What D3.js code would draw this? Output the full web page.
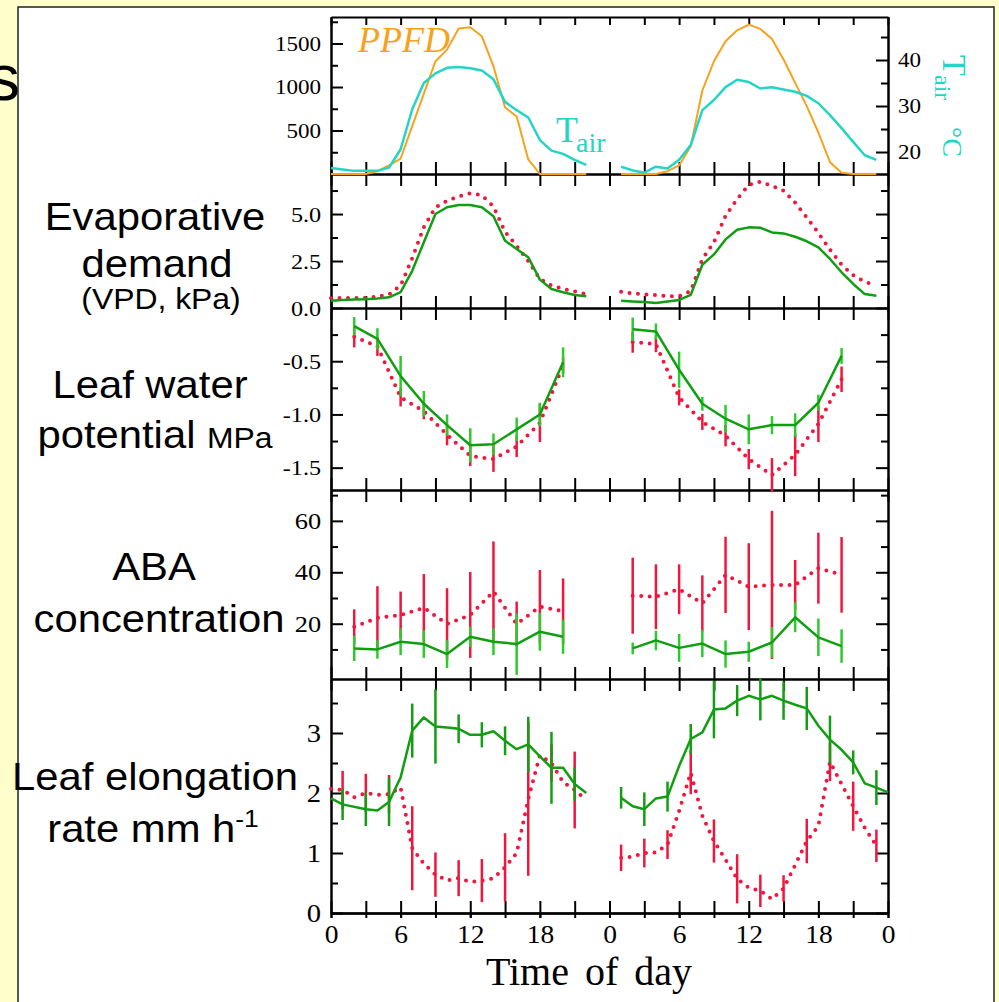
<!DOCTYPE html>
<html>
<head>
<meta charset="utf-8">
<script src="https://cdn.jsdelivr.net/npm/d3@7"></script>
<style>
  html, body { margin: 0; padding: 0; background: #FFFFCC; }
  svg { display: block; }
</style>
</head>
<body>
<svg id="chart" width="999" height="1002"></svg>
<script>
// ---- data (hour of a 48 h run, two days) ----
const hourly1 = [0, 1, 2, 3, 4, 5, 6, 7, 8, 9, 10, 11, 12, 13, 14, 15, 16, 17, 18, 19, 20, 21, 22];
const hourly2 = [25, 26, 27, 28, 29, 30, 31, 32, 33, 34, 35, 36, 37, 38, 39, 40, 41, 42, 43, 44, 45, 46, 47];
const sample1 = [2, 4, 6, 8, 10, 12, 14, 16, 18, 20];
const sample2 = [26, 28, 30, 32, 34, 36, 38, 40, 42, 44];
const odd1 = [1, 3, 5, 7, 9, 11, 13, 15, 17, 19, 21];
const odd2 = [25, 27, 29, 31, 33, 35, 37, 39, 41, 43, 45, 47];

// PPFD (umol m-2 s-1) and air temperature (deg C)
const ppfd1 = [0, 0, 0, 0, 32, 100, 178, 550, 925, 1296, 1430, 1672, 1687, 1583, 1239, 764, 661, 167, 0, 0, 0, 0, 0];
const ppfd2 = [0, 0, 0, 0, 32, 98, 319, 960, 1296, 1526, 1652, 1718, 1668, 1553, 1316, 1048, 780, 477, 136, 15, 0, 0, 0];
const tair1 = [16.5, 16.2, 15.9, 15.9, 15.9, 16.6, 20.6, 29.3, 35.0, 37.1, 38.3, 38.5, 38.2, 37.7, 35.8, 30.9, 29.1, 27.5, 22.6, 20.3, 19.6, 18.3, 17.2];
const tair2 = [16.8, 16.0, 15.5, 16.8, 16.4, 18.3, 21.5, 29.1, 31.3, 34.1, 35.7, 35.2, 33.8, 34.1, 33.6, 33.1, 32.2, 30.6, 28.0, 25.2, 22.2, 19.3, 18.3];

// VPD (kPa): green = solid, red = dotted
const vpdGreen1 = [0.39, 0.42, 0.45, 0.47, 0.5, 0.57, 0.84, 1.98, 3.5, 5.0, 5.36, 5.48, 5.48, 5.36, 4.88, 3.58, 3.14, 2.70, 1.51, 1.01, 0.84, 0.69, 0.62];
const vpdRed1 = [0.53, 0.53, 0.53, 0.55, 0.6, 0.72, 1.2, 2.65, 4.3, 5.35, 5.7, 5.93, 6.1, 6.0, 5.4, 4.05, 3.3, 2.5, 1.55, 1.2, 1.02, 0.88, 0.74];
const vpdGreen2 = [0.39, 0.35, 0.32, 0.27, 0.35, 0.43, 0.7, 2.3, 2.85, 3.65, 4.16, 4.29, 4.27, 4.02, 3.97, 3.79, 3.55, 3.23, 2.61, 1.9, 1.28, 0.74, 0.65];
const vpdRed2 = [0.87, 0.78, 0.72, 0.69, 0.63, 0.62, 0.9, 2.6, 3.5, 4.9, 5.8, 6.55, 6.72, 6.5, 6.24, 5.6, 4.82, 4.0, 3.1, 2.3, 1.75, 1.4, 1.19];

// Leaf water potential (MPa) with error bars
const lwpGreen1 = [-0.17, -0.29, -0.64, -0.90, -1.10, -1.29, -1.28, -1.14, -1.0, -0.51];
const lwpGreenErr1 = [0.085, 0.1, 0.19, 0.12, 0.1, 0.16, 0.1, 0.11, 0.11, 0.14];
const lwpRed1 = [-0.27, -0.36, -0.84, -0.97, -1.19, -1.39, -1.42, -1.30, -1.08, -0.54];
const lwpRedErr1 = [0.1, 0.09, 0.085, 0.075, 0.1, 0.095, 0.12, 0.1, 0.18, 0.075];
const lwpGreen2 = [-0.2, -0.22, -0.58, -0.90, -1.04, -1.14, -1.10, -1.10, -0.89, -0.45];
const lwpGreenErr2 = [0.11, 0.075, 0.17, 0.065, 0.13, 0.14, 0.085, 0.11, 0.075, 0.075];
const lwpRed2 = [-0.32, -0.34, -0.84, -1.07, -1.20, -1.42, -1.57, -1.38, -1.09, -0.67];
const lwpRedErr2 = [0.1, 0.075, 0.075, 0.075, 0.1, 0.095, 0.16, 0.2, 0.17, 0.12];

// ABA concentration with error bars
const abaGreen1 = [10.4, 10.0, 13.0, 12.1, 8.2, 14.9, 13.0, 12.1, 16.9, 14.9];
const abaGreenErr1 = [4.9, 3.6, 5.2, 5.4, 5.4, 3.9, 5.2, 12, 7.4, 6.6];
const abaRed1 = [18.8, 22.3, 23.4, 26.2, 19.9, 23.4, 32.5, 19.9, 26.6, 24.9];
const abaRedErr1 = [6.8, 12.3, 9.1, 13.1, 13.9, 16.7, 19.5, 8.7, 14.3, 12.7];
const abaGreen2 = [10.4, 13.5, 10.6, 12.3, 8.2, 9.1, 12.7, 22.5, 14.7, 11.3];
const abaGreenErr2 = [2.3, 3.8, 5.4, 5.3, 5.3, 3.9, 6.0, 5.8, 7.3, 6.5];
const abaRed2 = [30.9, 30.5, 33.4, 27.9, 39.0, 34.4, 35.1, 35.1, 41.6, 39.0];
const abaRedErr2 = [14.8, 12.6, 9.7, 10.9, 14.8, 16.9, 28.8, 9.7, 13.8, 14.7];

// Leaf elongation rate (mm h-1), hourly lines, error bars every 2 h
const lerGreenHours1 = [0, 1, 3, 4, 5, 6, 7, 8, 9, 10, 11, 12, 13, 14, 15, 16, 17, 18, 19, 20, 21, 22];
const lerGreen1 = [1.91, 1.81, 1.73, 1.71, 1.85, 2.26, 3.04, 3.26, 3.11, 3.09, 3.07, 2.97, 2.97, 3.03, 2.87, 2.73, 2.81, 2.61, 2.42, 2.42, 2.15, 2.0];
const lerGreenErr1 = [0.26, 0.28, 0.4, 0.45, 0.62, 0.24, 0.21, 0.24, 0.46, 0.6, 0.28];
const lerRed1 = [2.07, 2.05, 1.93, 2.0, 1.97, 1.98, 2.09, 1.08, 0.82, 0.64, 0.54, 0.58, 0.52, 0.54, 0.58, 0.76, 1.0, 1.9, 2.63, 2.5, 2.18, 2.05, 1.88];
const lerRedErr1 = [0.32, 0.32, 0.32, 0.7, 0.37, 0.3, 0.36, 0.57, 1.28, 0.31, 0.64];
const lerGreenHours2 = [25, 26, 27, 28, 29, 30, 31, 32, 33, 34, 35, 36, 37, 38, 39, 40, 41, 42, 43, 44, 45, 46, 47, 48];
const lerGreen2 = [1.92, 1.78, 1.73, 1.91, 1.94, 2.45, 2.90, 3.01, 3.39, 3.41, 3.54, 3.62, 3.56, 3.62, 3.54, 3.47, 3.41, 3.12, 2.89, 2.72, 2.51, 2.16, 2.09, 2.01];
const lerGreenErr2 = [0.18, 0.28, 0.25, 0.25, 0.48, 0.26, 0.35, 0.32, 0.36, 0.4, 0.2, 0.29];
const lerRed2 = [0.92, 0.94, 1.0, 1.01, 1.14, 1.70, 2.34, 1.62, 1.2, 0.89, 0.57, 0.42, 0.37, 0.23, 0.41, 0.8, 1.2, 1.45, 2.52, 2.15, 1.78, 1.42, 1.12];
const lerRedErr2 = [0.22, 0.24, 0.24, 0.36, 0.36, 0.41, 0.27, 0.22, 0.37, 0.32, 0.41, 0.27];

// ticks
const timeTicks = [0, 3, 6, 9, 12, 15, 18, 21, 24, 27, 30, 33, 36, 39, 42, 45, 48];
const timeLabelHours = [0, 6, 12, 18, 24, 30, 36, 42, 48];
const timeLabels = ['0', '6', '12', '18', '0', '6', '12', '18', '0'];
const ppfdTicks = [500, 1000, 1500], ppfdMinor = [250, 750, 1250, 1750];
const tairTicks = [20, 30, 40], tairMinor = [25, 35, 45];
const vpdTicks = [0, 2.5, 5], vpdMinor = [1.25, 3.75, 6.25];
const lwpTicks = [-0.5, -1, -1.5], lwpMinor = [-0.25, -0.75, -1.25];
const abaTicks = [20, 40, 60], abaMinor = [10, 30, 50, 70];
const lerTicks = [0, 1, 2, 3], lerMinor = [0.5, 1.5, 2.5, 3.5];

// ---- drawing ----
const sans = '"Liberation Sans", Arial, sans-serif';
const serif = '"Liberation Serif", "Times New Roman", serif';
const ORANGE = '#F6A21D', CYAN = '#24D4C4', GREEN = '#129E12', GREEN_BAR = '#2CCB2C', RED = '#F0163E';

const svg = d3.select('#chart');
const left = 331, right = 888;
const x = d3.scaleLinear().domain([0, 48]).range([left, right]);

svg.append('rect').attr('width', 999).attr('height', 1002).attr('fill', '#FFFFCC');
svg.append('text').attr('x', 20).attr('y', 100).attr('text-anchor', 'end')
  .attr('font-family', sans).attr('font-size', 64).text('s');
svg.append('rect').attr('x', 18).attr('y', 7).attr('width', 976).attr('height', 1010)
  .attr('fill', '#fff').attr('stroke', '#222').attr('stroke-width', 1.5);

const panels = [
  { top: 17, bottom: 174, domain: [0, 1805], major: ppfdTicks, minor: ppfdMinor, font: 21, fmt: d => d },
  { top: 174, bottom: 308, domain: [0, 7.13], major: vpdTicks, minor: vpdMinor, font: 22, fmt: d => d.toFixed(1) },
  { top: 308, bottom: 490, domain: [-1.71, 0], major: lwpTicks, minor: lwpMinor, font: 22, fmt: d => d.toFixed(1) },
  { top: 490, bottom: 679, domain: [-1.5, 72], major: abaTicks, minor: abaMinor, font: 24, fmt: d => d },
  { top: 679, bottom: 913, domain: [0, 3.9], major: lerTicks, minor: lerMinor, font: 26, fmt: d => d }
];

function styleAxis(g, font) {
  g.select('.domain').attr('stroke', '#000').attr('stroke-width', 2);
  g.selectAll('.tick line').attr('stroke', '#000').attr('stroke-width', 2);
  g.attr('font-family', serif).attr('font-size', font);
  g.selectAll('.tick text').attr('fill', '#000').attr('transform', 'scale(1.1,1)');
}

panels.forEach((p, i) => {
  p.y = d3.scaleLinear().domain(p.domain).range([p.bottom, p.top]);
  const gl = svg.append('g').attr('transform', `translate(${left},0)`)
    .call(d3.axisLeft(p.y).tickValues(p.major).tickSize(-12).tickSizeOuter(0).tickPadding(9).tickFormat(p.fmt));
  styleAxis(gl, p.font);
  const glm = svg.append('g').attr('transform', `translate(${left},0)`)
    .call(d3.axisLeft(p.y).tickValues(p.minor).tickSize(-7).tickSizeOuter(0).tickFormat(''));
  styleAxis(glm, p.font);
  if (i > 0) {
    const gr = svg.append('g').attr('transform', `translate(${right},0)`)
      .call(d3.axisRight(p.y).tickValues(p.major).tickSize(-12).tickSizeOuter(0).tickFormat(''));
    styleAxis(gr, p.font);
    const grm = svg.append('g').attr('transform', `translate(${right},0)`)
      .call(d3.axisRight(p.y).tickValues(p.minor).tickSize(-7).tickSizeOuter(0).tickFormat(''));
    styleAxis(grm, p.font);
  }
  const gt = svg.append('g').attr('transform', `translate(0,${p.top})`)
    .call(d3.axisTop(x).tickValues(timeTicks).tickSize(i === 0 ? -8 : -12).tickSizeOuter(0).tickFormat(''));
  styleAxis(gt, 20);
  const gb = svg.append('g').attr('transform', `translate(0,${p.bottom})`)
    .call(d3.axisBottom(x).tickValues(timeTicks).tickSize(-12).tickSizeOuter(0).tickFormat(''));
  styleAxis(gb, 20);
});

// bottom time axis labels
const gx = svg.append('g').attr('transform', `translate(0,${panels[4].bottom})`)
  .call(d3.axisBottom(x).tickValues(timeLabelHours).tickSize(5).tickSizeOuter(0).tickPadding(7)
    .tickFormat((d, i) => timeLabels[i]));
styleAxis(gx, 25);
const gx2 = svg.append('g').attr('transform', `translate(0,${panels[4].bottom})`)
  .call(d3.axisBottom(x).tickValues(timeTicks).tickSize(5).tickSizeOuter(0).tickFormat(''));
styleAxis(gx2, 25);

// Tair right axis
const yT = d3.scaleLinear().domain([15.22, 49.35]).range([174, 17]);
const gT = svg.append('g').attr('transform', `translate(${right},0)`)
  .call(d3.axisRight(yT).tickValues(tairTicks).tickSize(-12).tickSizeOuter(0).tickPadding(9));
styleAxis(gT, 21);
const gTm = svg.append('g').attr('transform', `translate(${right},0)`)
  .call(d3.axisRight(yT).tickValues(tairMinor).tickSize(-7).tickSizeOuter(0).tickFormat(''));
styleAxis(gTm, 21);

const plot = svg.append('g');

function pairs(xs, vs) { return xs.map((h, i) => [h, vs[i]]); }

function addLine(y, xs, vs, color, width, dotted) {
  const line = d3.line().x(d => x(d[0])).y(d => y(d[1]));
  const p = plot.append('path').datum(pairs(xs, vs))
    .attr('fill', 'none').attr('stroke', color).attr('stroke-width', width)
    .attr('stroke-linejoin', 'round').attr('d', line);
  if (dotted) p.attr('stroke-dasharray', '0 8.5').attr('stroke-linecap', 'round');
}

function addBars(y, xs, vs, es, color) {
  plot.append('g').selectAll('line')
    .data(xs.map((h, i) => [h, vs[i], es[i]]))
    .join('line')
    .attr('x1', d => x(d[0])).attr('x2', d => x(d[0]))
    .attr('y1', d => y(d[1] - d[2])).attr('y2', d => y(d[1] + d[2]))
    .attr('stroke', color).attr('stroke-width', 2.5);
}

function valuesAt(hours, lineHours, lineVals) {
  return hours.map(h => lineVals[lineHours.indexOf(h)]);
}

// panel 1
const yP = panels[0].y;
addLine(yP, hourly1, ppfd1, ORANGE, 2);
addLine(yP, hourly2, ppfd2, ORANGE, 2);
addLine(yT, hourly1, tair1, CYAN, 2.5);
addLine(yT, hourly2, tair2, CYAN, 2.5);

// panel 2
const yV = panels[1].y;
addLine(yV, hourly1, vpdRed1, RED, 4, true);
addLine(yV, hourly2, vpdRed2, RED, 4, true);
addLine(yV, hourly1, vpdGreen1, GREEN, 2.5);
addLine(yV, hourly2, vpdGreen2, GREEN, 2.5);

// panel 3
const yW = panels[2].y;
addBars(yW, sample1, lwpRed1, lwpRedErr1, RED);
addBars(yW, sample2, lwpRed2, lwpRedErr2, RED);
addLine(yW, sample1, lwpRed1, RED, 4, true);
addLine(yW, sample2, lwpRed2, RED, 4, true);
addBars(yW, sample1, lwpGreen1, lwpGreenErr1, GREEN_BAR);
addBars(yW, sample2, lwpGreen2, lwpGreenErr2, GREEN_BAR);
addLine(yW, sample1, lwpGreen1, GREEN, 2.5);
addLine(yW, sample2, lwpGreen2, GREEN, 2.5);

// panel 4
const yA = panels[3].y;
addBars(yA, sample1, abaRed1, abaRedErr1, RED);
addBars(yA, sample2, abaRed2, abaRedErr2, RED);
addLine(yA, sample1, abaRed1, RED, 4, true);
addLine(yA, sample2, abaRed2, RED, 4, true);
addBars(yA, sample1, abaGreen1, abaGreenErr1, GREEN_BAR);
addBars(yA, sample2, abaGreen2, abaGreenErr2, GREEN_BAR);
addLine(yA, sample1, abaGreen1, GREEN, 2.5);
addLine(yA, sample2, abaGreen2, GREEN, 2.5);

// panel 5
const yL = panels[4].y;
addBars(yL, odd1, valuesAt(odd1, hourly1, lerRed1), lerRedErr1, RED);
addBars(yL, odd2, valuesAt(odd2, hourly2, lerRed2), lerRedErr2, RED);
addLine(yL, hourly1, lerRed1, RED, 4, true);
addLine(yL, hourly2, lerRed2, RED, 4, true);
addBars(yL, odd1, valuesAt(odd1, lerGreenHours1, lerGreen1), lerGreenErr1, GREEN);
addBars(yL, odd2, valuesAt(odd2, lerGreenHours2, lerGreen2), lerGreenErr2, GREEN);
addLine(yL, lerGreenHours1, lerGreen1, GREEN, 2.5);
addLine(yL, lerGreenHours2, lerGreen2, GREEN, 2.5);

// ---- text ----
svg.append('text').attr('x', 358).attr('y', 52).attr('font-family', serif)
  .attr('font-style', 'italic').attr('font-size', 36).attr('fill', ORANGE).text('PPFD');
const tl = svg.append('text').attr('x', 556).attr('y', 142).attr('font-family', serif)
  .attr('font-size', 36).attr('fill', CYAN);
tl.append('tspan').text('T');
tl.append('tspan').attr('dx', -2).attr('dy', 10).attr('font-size', 28).text('air');

const tr = svg.append('text').attr('transform', 'translate(943,55) rotate(90)')
  .attr('font-family', serif).attr('fill', CYAN);
tr.append('tspan').attr('x', 0).attr('font-size', 34).text('T');
tr.append('tspan').attr('x', 20).attr('dy', 8).attr('font-size', 24).text('air');
tr.append('tspan').attr('x', 72).attr('dy', -8).attr('font-size', 28).text('°C');

function sideLabel(cx, y, parts) {
  const t = svg.append('text').attr('transform', `translate(${cx},${y}) scale(1.1,1)`)
    .attr('text-anchor', 'middle').attr('font-family', sans).attr('fill', '#000');
  parts.forEach(p => {
    const s = t.append('tspan').attr('font-size', p.size || 38).text(p.text);
    if (p.dy) s.attr('dy', p.dy);
  });
}
sideLabel(155, 230, [{ text: 'Evaporative' }]);
sideLabel(157, 277, [{ text: 'demand' }]);
sideLabel(161, 309, [{ text: '(VPD, kPa)', size: 29 }]);
sideLabel(150, 398, [{ text: 'Leaf water' }]);
sideLabel(155, 448, [{ text: 'potential ' }, { text: 'MPa', size: 29 }]);
sideLabel(154, 580, [{ text: 'ABA' }]);
sideLabel(159, 632, [{ text: 'concentration' }]);
sideLabel(155, 790, [{ text: 'Leaf elongation' }]);
sideLabel(153, 842, [{ text: 'rate mm h' }, { text: '-1', size: 24, dy: -15 }]);

svg.append('text').attr('x', 589).attr('y', 985).attr('text-anchor', 'middle')
  .attr('font-family', serif).attr('font-size', 40).attr('word-spacing', 6).text('Time of day');
</script>
</body>
</html>
